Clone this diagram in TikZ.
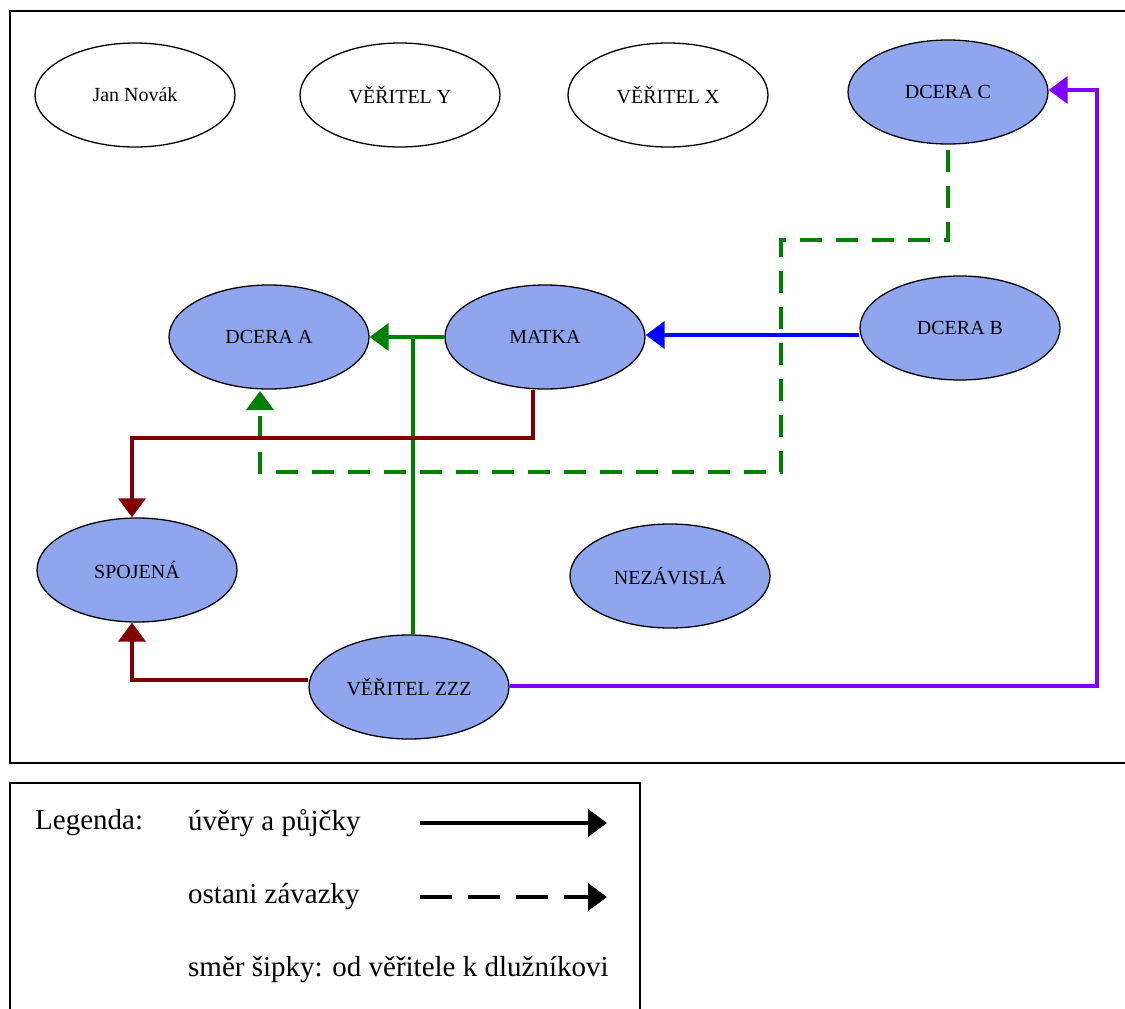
\documentclass[tikz,border=0pt]{standalone}
\usepackage{fontspec}
\setmainfont{Liberation Serif}
\usetikzlibrary{shapes.geometric,arrows.meta}
\definecolor{nodefill}{RGB}{143,166,238}
\definecolor{cgreen}{RGB}{0,128,0}
\definecolor{cred}{RGB}{128,0,0}
\definecolor{cblue}{RGB}{0,0,255}
\definecolor{cpurple}{RGB}{128,0,255}
\tikzset{
  ent/.style={ellipse, draw=black, line width=1.3pt, minimum width=200pt, minimum height=104pt, inner sep=0pt, font=\fontsize{20}{24}\selectfont},
  filled/.style={ent, fill=nodefill},
  conn/.style={line width=4pt, -{Triangle[length=19pt,width=27pt]}},
  dconn/.style={conn, dash pattern=on 22pt off 14pt},
  frame/.style={draw=black, line width=1.8pt},
  legtext/.style={anchor=west, inner sep=0pt, font=\fontsize{29}{34}\selectfont},
}
\begin{document}
\begin{tikzpicture}[x=1pt,y=-1pt]
\useasboundingbox (0,0) rectangle (1125,1009);
\fill[white] (0,0) rectangle (1125,1009);
\draw[frame] (10,11) rectangle (1140,763);
\draw[frame] (10,783) rectangle (640,1030);

\node[ent] (jan) at (135,95) {Jan Novák};
\node[ent] (vy) at (400,95) {VĚŘITEL Y};
\node[ent] (vx) at (668,95) {VĚŘITEL X};
\node[filled] (dc) at (948,92) {DCERA C};
\node[filled] (da) at (269,337) {DCERA A};
\node[filled] (mat) at (545,337) {MATKA};
\node[filled] (db) at (960,328) {DCERA B};
\node[filled] (sp) at (137,570) {SPOJENÁ};
\node[filled] (nez) at (670,576) {NEZÁVISLÁ};
\node[filled] (zzz) at (409,687) {VĚŘITEL ZZZ};

\coordinate (gj) at (413,337);
\coordinate (pc1) at (1097,686);
\coordinate (pc2) at (1097,90);

% blue
\draw[conn, cblue] (db.west |- 0,335) -- (mat.east |- 0,335);
% green solid
\draw[conn, cgreen] (mat.west) -- (da.east);
\draw[line width=4pt, cgreen] (zzz.north -| gj) -- (gj);
% green dashed
\draw[dconn, cgreen] (948,150) -- (948,240) -- (781,240) -- (781,472) -- (260,472) -- (260,391);
% dark red
\draw[conn, cred] (533,390) -- (533,438) -- (132,438) -- (sp.north -| 132,0);
\draw[conn, cred] (zzz.west |- 0,680) -- (132,680) -- (sp.south -| 132,0);
% purple
\draw[conn, cpurple] (zzz.east |- pc1) -- (pc1) -- (pc2) -- (dc.east |- pc2);

% legend
\node[legtext] (lg) at (35,823) {Legenda:};
\node[legtext] (l1) at (188,823) {úvěry a půjčky};
\node[legtext] (l2) at (188,897) {ostani závazky};
\node[legtext] (l3) at (188,970) {směr šipky: od věřitele k dlužníkovi};
\coordinate (a1s) at (420,823);
\coordinate (a1e) at (607,823);
\coordinate (a2s) at (420,897);
\coordinate (a2e) at (607,897);
\draw[conn, black] (a1s) -- (a1e);
\draw[conn, black, dash pattern=on 32pt off 16pt] (a2s) -- (a2e);
\end{tikzpicture}
\end{document}
